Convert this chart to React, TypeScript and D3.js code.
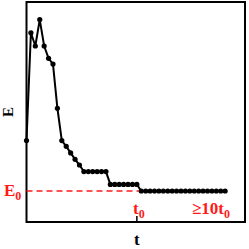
import React from "react";
import * as d3 from "d3";

// energy per step (0..100 scale)
const energy = [
	37, 86, 80, 92, 80, 74.4, 71.8, 51.7, 37, 34.4, 31.4, 28.5, 25.9,
	22.9, 22.9, 22.9, 22.9, 22.9, 22.9,
	17.1, 17.1, 17.1, 17.1, 17.1, 17.1, 17.1,
	14.1, 14.1, 14.1, 14.1, 14.1, 14.1, 14.1, 14.1, 14.1, 14.1,
	14.1, 14.1, 14.1, 14.1, 14.1, 14.1, 14.1, 14.1, 14.1, 14.1,
];
const e0 = 14.1;
const t0 = 25;
const xLabel = "t";
const yLabel = "E";

const W = 249;
const H = 249;
const margin = { top: 2, right: 4, bottom: 27, left: 26.5 };

export default function App() {
	const x = d3
		.scaleLinear()
		.domain([0, 49.5])
		.range([margin.left, W - margin.right]);
	const y = d3
		.scaleLinear()
		.domain([0, 100])
		.range([H - margin.bottom, margin.top]);

	const pts = energy.map((v, i) => [x(i), y(v)] as [number, number]);
	const line = d3.line()(pts) || "";
	const font = "'Liberation Serif', 'Times New Roman', serif";
	const red = "#ff1a1a";

	return (
		<svg
			width={W}
			height={H}
			style={{ position: "fixed", left: 0, top: 0, background: "#fff" }}
		>
			<rect
				x={margin.left}
				y={margin.top}
				width={W - margin.left - margin.right}
				height={H - margin.top - margin.bottom}
				fill="none"
				stroke="#000"
				strokeWidth={2}
			/>
			<line
				x1={x(0)}
				x2={x(t0) + 2}
				y1={y(e0)}
				y2={y(e0)}
				stroke={red}
				strokeWidth={1.5}
				strokeDasharray="6,4"
			/>
			<path d={line} fill="none" stroke="#000" strokeWidth={2} />
			{pts.map((p, i) => (
				<circle key={i} cx={p[0]} cy={p[1]} r={2.6} fill="#000" />
			))}
			<line
				x1={x(t0)}
				x2={x(t0)}
				y1={y(0)}
				y2={y(0) - 6}
				stroke="#000"
				strokeWidth={1.5}
			/>
			<g fontFamily={font} fontWeight="bold">
				<text x={x(t0)} y={245} fontSize={17} textAnchor="middle">
					{xLabel}
				</text>
				<text
					transform={`translate(13,${y(50)}) rotate(-90)`}
					fontSize={15}
					textAnchor="middle"
				>
					{yLabel}
				</text>
				<g fill={red}>
					<text x={4} y={196} fontSize={17}>
						E<tspan fontSize={12} dy={4}>0</tspan>
					</text>
					<text x={133} y={214} fontSize={17}>
						t<tspan fontSize={12} dy={4}>0</tspan>
					</text>
					<text x={192} y={214} fontSize={17}>
						≥10t<tspan fontSize={12} dy={4}>0</tspan>
					</text>
				</g>
			</g>
		</svg>
	);
}
